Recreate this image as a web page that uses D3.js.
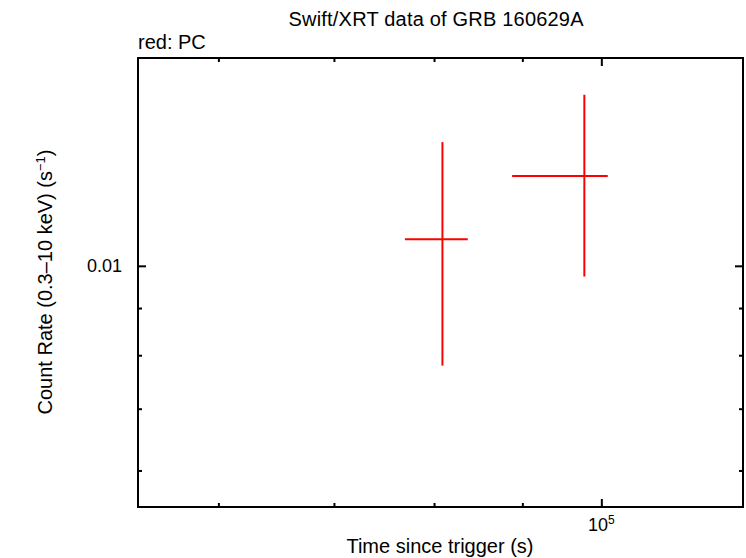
<!DOCTYPE html>
<html>
<head>
<meta charset="utf-8">
<script src="https://cdn.jsdelivr.net/npm/d3@7"></script>
<style>
  body { margin: 0; background: #fff; }
  text { font-family: "Liberation Sans", Arial, sans-serif; fill: #000; }
</style>
</head>
<body>
<div id="chart"></div>
<script>
// PC mode light curve points (time in s, rate in counts/s)
const pcTime = [80900, 97760];
const pcTimeLo = [76950, 88780];
const pcTimeHi = [83680, 100860];
const pcRate = [0.010689, 0.012512];
const pcRateLo = [0.007794, 0.009736];
const pcRateHi = [0.013619, 0.015328];

const xDomain = [53900, 120800];
const yDomain = [0.005477, 0.0168];
const xMajorTicks = [1e5];
const xMinorTicks = [6e4, 7e4, 8e4, 9e4];
const yMajorTicks = [0.01];
const yMinorTicks = [0.006, 0.007, 0.008, 0.009];

const width = 746, height = 558;
const margin = { top: 58, right: 3, bottom: 51, left: 138 };
const w = width - margin.left - margin.right;
const h = height - margin.top - margin.bottom;

const svg = d3.select('#chart').append('svg')
  .attr('width', width)
  .attr('height', height);

const g = svg.append('g')
  .attr('transform', `translate(${margin.left},${margin.top})`);

const x = d3.scaleLog().domain(xDomain).range([0, w]);
const y = d3.scaleLog().domain(yDomain).range([h, 0]);

// ticks on all four sides, pointing inward
function tickAxis(axisFn, scale, values, size) {
  return axisFn(scale).tickValues(values).tickSize(size).tickFormat('');
}

const axes = [
  [d3.axisBottom, x, `translate(0,${h})`, 1],
  [d3.axisTop, x, 'translate(0,0)', 1],
  [d3.axisLeft, y, 'translate(0,0)', 0],
  [d3.axisRight, y, `translate(${w},0)`, 0]
];
axes.forEach(([fn, sc, tr, isX]) => {
  [[isX ? xMajorTicks : yMajorTicks, -8], [isX ? xMinorTicks : yMinorTicks, -4]].forEach(([vals, sz]) => {
    const a = g.append('g')
      .attr('transform', tr)
      .call(tickAxis(fn, sc, vals, sz));
    a.select('.domain').remove();
    a.selectAll('line').attr('stroke', '#000').attr('stroke-width', 2);
  });
});

// frame
g.append('rect')
  .attr('width', w)
  .attr('height', h)
  .attr('fill', 'none')
  .attr('stroke', '#000')
  .attr('stroke-width', 2);

// tick labels
g.selectAll('.ylab')
  .data(yMajorTicks)
  .enter().append('text')
  .attr('x', -16)
  .attr('y', d => y(d))
  .attr('dy', '0.35em')
  .attr('text-anchor', 'end')
  .style('font-size', '18px')
  .text('0.01');

const xl = g.selectAll('.xlab')
  .data(xMajorTicks)
  .enter().append('text')
  .attr('x', d => x(d))
  .attr('y', h + 24)
  .attr('text-anchor', 'middle')
  .style('font-size', '18px');
xl.append('tspan').text('10');
xl.append('tspan').attr('dy', -7).style('font-size', '12px').text('5');

// error bars
const pts = pcTime.map((t, i) => ({
  t: t, t0: pcTimeLo[i], t1: pcTimeHi[i],
  r: pcRate[i], r0: pcRateLo[i], r1: pcRateHi[i]
}));

const bars = g.append('g').selectAll('g')
  .data(pts)
  .enter().append('g');

bars.append('line')
  .attr('x1', d => x(d.t0))
  .attr('x2', d => x(d.t1))
  .attr('y1', d => y(d.r))
  .attr('y2', d => y(d.r))
  .attr('stroke', '#ff0000')
  .attr('stroke-width', 2);

bars.append('line')
  .attr('x1', d => x(d.t))
  .attr('x2', d => x(d.t))
  .attr('y1', d => y(d.r0))
  .attr('y2', d => y(d.r1))
  .attr('stroke', '#ff0000')
  .attr('stroke-width', 2);

// titles
svg.append('text')
  .attr('x', 436)
  .attr('y', 26)
  .attr('text-anchor', 'middle')
  .style('font-size', '20px')
  .attr('textLength', 295)
  .text('Swift/XRT data of GRB 160629A');

svg.append('text')
  .attr('x', 138)
  .attr('y', 49)
  .style('font-size', '20px')
  .text('red: PC');

svg.append('text')
  .attr('x', 440)
  .attr('y', 553)
  .attr('text-anchor', 'middle')
  .style('font-size', '20px')
  .text('Time since trigger (s)');

const yt = svg.append('text')
  .attr('transform', 'translate(52,282) rotate(-90)')
  .attr('text-anchor', 'middle')
  .style('font-size', '20px');
yt.append('tspan').text('Count Rate (0.3\u201310 keV) (s');
yt.append('tspan').attr('dy', -7).style('font-size', '13px').text('\u22121');
yt.append('tspan').attr('dy', 7).text(')');
</script>
</body>
</html>
